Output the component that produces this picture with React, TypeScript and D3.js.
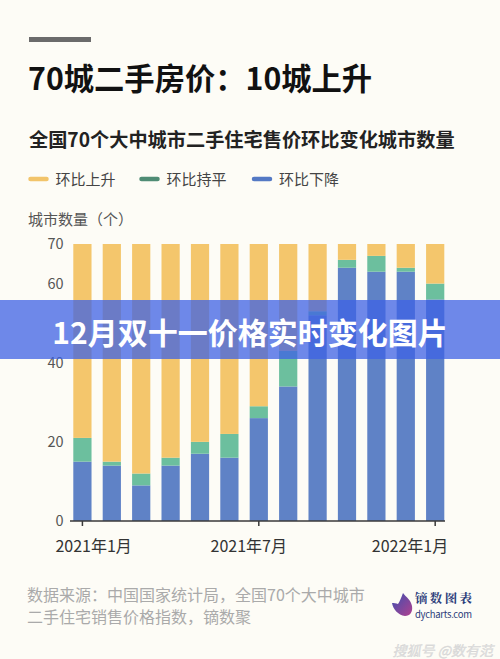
import React from "react";
import * as d3 from "d3";

const months = ["2021-01","2021-02","2021-03","2021-04","2021-05","2021-06","2021-07","2021-08","2021-09","2021-10","2021-11","2021-12","2022-01"];
const upCities = [49, 55, 58, 54, 50, 48, 41, 27, 17, 4, 3, 6, 10];
const flatCities = [6, 1, 3, 2, 3, 6, 3, 9, 1, 2, 4, 1, 4];
const downCities = [15, 14, 9, 14, 17, 16, 26, 34, 52, 64, 63, 63, 56];
const yTicks = [0, 20, 40, 60, 70];
const xTickMonths = ["2021-01", "2021-07", "2022-01"];
const xTickLabels = ["2021年1月", "2021年7月", "2022年1月"];
const seriesKeys = ["down", "flat", "up"];
const legendLabels = ["环比上升", "环比持平", "环比下降"];

const barColors: Record<string, string> = { up: "#f4c66c", flat: "#6cbf9e", down: "#5f82c6" };
const legendColors = ["#f2c46a", "#4f8c74", "#5479c4"];
const FONT = "'Noto Sans CJK SC', 'Noto Sans', sans-serif";

export default function App() {
  const W = 500, H = 659;
  const x = d3.scaleBand<string>().domain(months).range([73.3, 444.3]).paddingInner(0.38).paddingOuter(0);
  const y = d3.scaleLinear().domain([0, 70]).range([521, 244]);
  const table = months.map((m, i) => ({ month: m, up: upCities[i], flat: flatCities[i], down: downCities[i] }));
  const stacked = d3.stack<any>().keys(seriesKeys)(table);
  const bw = x.bandwidth();
  const xAnchor = ["start", "middle", "end"];
  const xOffset = [-27, -10, 13];

  return (
    <div style={{ position: "fixed", left: 0, top: 0, width: W, height: H }}>
      <svg width={W} height={H} style={{ display: "block", fontFamily: FONT }}>
        <rect x={0} y={0} width={W} height={H} fill="#fdfcf6" />
        <rect x={29} y={37} width={62} height={5} fill="#6b6b6b" />
        <text x={28} y={90} fontSize={30.3} fontWeight={700} fill="#111">70城二手房价：10城上升</text>
        <text x={29} y={146.5} fontSize={19.2} fontWeight={700} fill="#222">全国70个大中城市二手住宅售价环比变化城市数量</text>

        {legendLabels.map((l, i) => {
          const sx = [28.5, 139.5, 252][i];
          return (
            <g key={l}>
              <line x1={sx + 2} x2={sx + 18} y1={179} y2={179} stroke={legendColors[i]} strokeWidth={4.5} strokeLinecap="round" />
              <text x={sx + 27} y={184.5} fontSize={15} fill="#444">{l}</text>
            </g>
          );
        })}

        <text x={28} y={225} fontSize={15} fill="#555">城市数量（个）</text>

        {yTicks.map((t) => (
          <text key={t} x={63.5} y={y(t) + 5} fontSize={14.5} fill="#555" textAnchor="end">{t}</text>
        ))}

        {stacked.map((s) => (
          <g key={s.key} fill={barColors[s.key]}>
            {s.map((d, i) => (
              <rect key={i} x={x(months[i])} y={y(d[1])} width={bw} height={y(d[0]) - y(d[1])} />
            ))}
          </g>
        ))}

        <line x1={70} x2={445} y1={521} y2={521} stroke="#3a3a3a" strokeWidth={1.5} />
        {xTickMonths.map((m, i) => {
          const cx = (x(m) as number) + bw / 2;
          return (
            <g key={m}>
              <line x1={cx} x2={cx} y1={521} y2={526} stroke="#3a3a3a" strokeWidth={1.5} />
              <text x={cx + xOffset[i]} y={552} fontSize={16} fill="#333" textAnchor={xAnchor[i] as any}>{xTickLabels[i]}</text>
            </g>
          );
        })}

        <text x={27} y={601} fontSize={16} fill="#aaa">数据来源：中国国家统计局，全国70个大中城市</text>
        <text x={27} y={623} fontSize={16} fill="#aaa">二手住宅销售价格指数，镝数聚</text>

        <defs>
          <linearGradient id="logoGrad" x1="0" y1="0" x2="1" y2="1">
            <stop offset="0" stopColor="#3b4fb0" />
            <stop offset="1" stopColor="#b0418f" />
          </linearGradient>
        </defs>
        <path d="M392,603 C393,609 398,615 405,616 C410,616 413,612 412,606 C411,600 406,597 403,593 C401,598 400,601 398,604 C396,603 394,603 392,603 Z" fill="url(#logoGrad)" />
        <text x={415} y={603} fontSize={12.5} fontWeight={700} fill="#2c3c7a" fontFamily="'Noto Serif CJK SC', 'Noto Sans CJK SC', serif" textLength={57}>镝数图表</text>
        <text x={415} y={617.5} fontSize={9.5} fill="#2c3c7a" textLength={57}>dycharts.com</text>

        <text x={493} y={656} fontSize={14} fill="#e0e0e0" textAnchor="end" fontStyle="italic" stroke="#d0d0d0" strokeWidth={0.3}>搜狐号 @数有范</text>

        <rect x={0} y={300} width={W} height={59} fill="rgb(62,98,228)" fillOpacity={0.75} />
        <text x={250} y={344} fontSize={30} fontWeight={700} fill="#fff" textAnchor="middle">12月双十一价格实时变化图片</text>
      </svg>
    </div>
  );
}
